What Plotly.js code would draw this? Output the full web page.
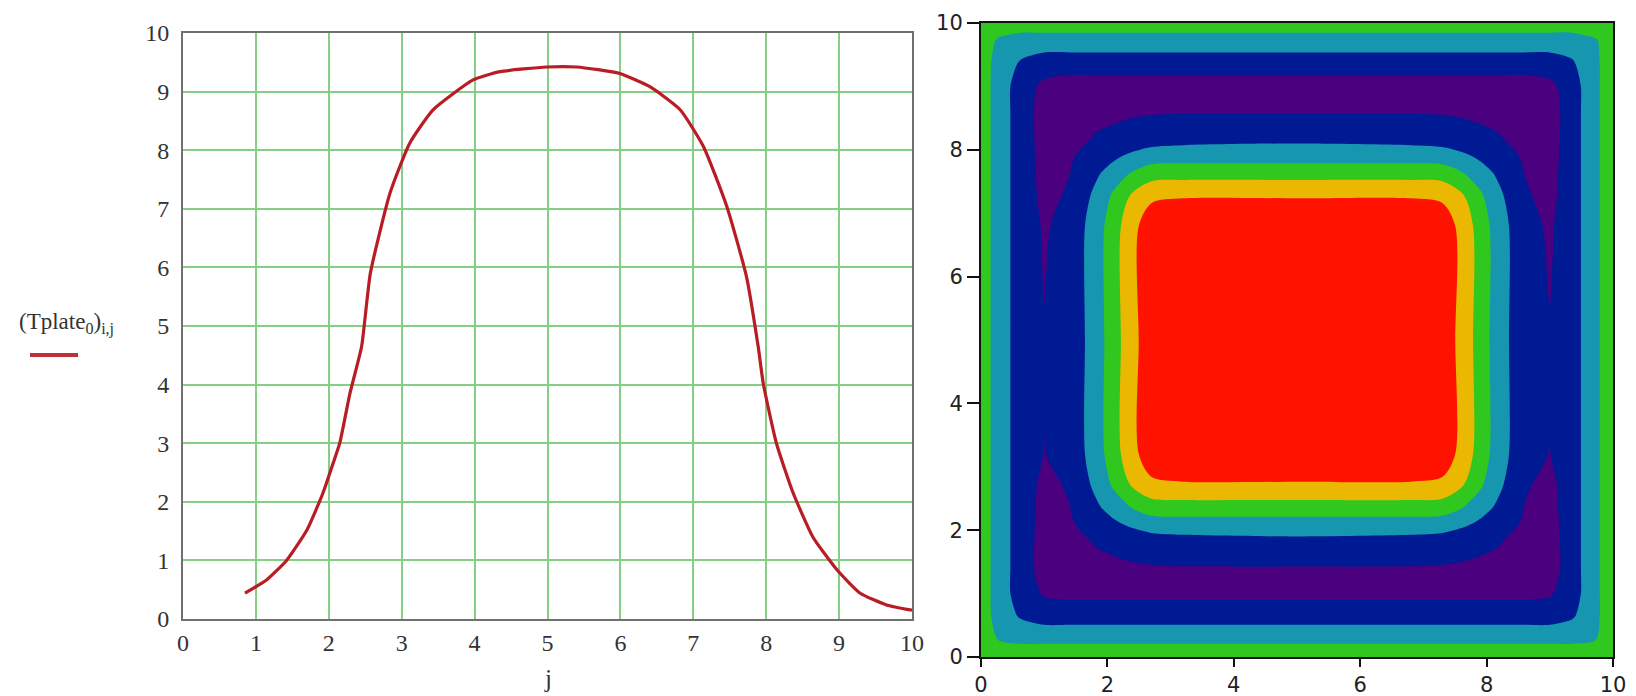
<!DOCTYPE html>
<html>
<head>
<meta charset="utf-8">
<script src="https://cdn.plot.ly/plotly-3.0.1.min.js"></script>
<style>html,body{margin:0;padding:0;background:#fff;}#chart{width:1636px;height:696px;}</style>
</head>
<body>
<div id="chart"></div>
<script>
// ---- Left chart: cross-section profile (Tplate0)i,j versus j ----
const jValues = [0.85, 1.15, 1.42, 1.70, 1.92, 2.06, 2.15, 2.29, 2.45, 2.57, 2.84, 3.11, 3.43, 3.98, 4.35, 4.99, 5.40, 5.99, 6.41, 6.82, 7.14, 7.46, 7.73, 7.89, 7.96, 8.14, 8.37, 8.64, 8.97, 9.29, 9.65, 10.0];
const tValues = [0.44, 0.67, 1.00, 1.52, 2.15, 2.66, 3.00, 3.85, 4.65, 5.90, 7.27, 8.12, 8.69, 9.20, 9.34, 9.42, 9.42, 9.31, 9.08, 8.69, 8.06, 7.04, 5.84, 4.65, 4.02, 3.00, 2.15, 1.40, 0.84, 0.44, 0.24, 0.15];
const leftTicks = [0, 1, 2, 3, 4, 5, 6, 7, 8, 9, 10];

// ---- Right chart: filled contour map of the plate ----
const plateX = [0, 0.28, 0.65, 1.0, 1.4, 1.82, 2.1, 2.36, 2.7, 3.2, 5, 6.8, 7.3, 7.64, 7.9, 8.18, 8.6, 9.0, 9.35, 9.72, 10];
const plateY = [0, 0.28, 0.65, 1.0, 1.4, 1.82, 2.1, 2.36, 2.7, 3.2, 5, 6.8, 7.3, 7.64, 7.9, 8.18, 8.6, 9.0, 9.35, 9.72, 10];
const plateZ = [
 [3.6, 3.6, 3.6, 3.6, 3.6, 3.6, 3.6, 3.6, 3.6, 3.6, 3.6, 3.6, 3.6, 3.6, 3.6, 3.6, 3.6, 3.6, 3.6, 3.6, 3.6],
 [3.6, 2.95, 2.8, 2.8, 2.8, 2.8, 2.8, 2.8, 2.8, 2.8, 2.8, 2.8, 2.8, 2.8, 2.8, 2.8, 2.8, 2.8, 2.8, 2.95, 3.6],
 [3.6, 2.55, 1.85, 1.5, 1.5, 1.5, 1.5, 1.5, 1.5, 1.5, 1.5, 1.5, 1.5, 1.5, 1.5, 1.5, 1.5, 1.5, 1.85, 2.8, 3.6],
 [3.6, 2.5, 1.5, 0.9, 0.8, 0.8, 0.8, 0.8, 0.8, 0.8, 0.8, 0.8, 0.8, 0.8, 0.8, 0.8, 0.8, 0.9, 1.5, 2.8, 3.6],
 [3.6, 2.5, 1.5, 0.55, 0.7, 0.82, 0.87, 0.9, 0.93, 0.95, 0.95, 0.95, 0.93, 0.9, 0.87, 0.82, 0.7, 0.55, 1.5, 2.8, 3.6],
 [3.6, 2.5, 1.5, 0.6, 0.8, 1.05, 1.15, 1.3, 1.5, 1.65, 1.77, 1.65, 1.5, 1.3, 1.15, 1.05, 0.8, 0.6, 1.5, 2.8, 3.6],
 [3.6, 2.5, 1.5, 0.65, 0.9, 1.4, 1.83, 2.17, 2.53, 2.57, 2.57, 2.57, 2.53, 2.17, 1.83, 1.4, 0.9, 0.65, 1.5, 2.8, 3.6],
 [3.6, 2.5, 1.5, 0.7, 0.98, 1.84, 2.39, 2.98, 3.5, 3.56, 3.56, 3.56, 3.5, 2.98, 2.39, 1.84, 0.98, 0.7, 1.5, 2.8, 3.6],
 [3.6, 2.5, 1.5, 0.75, 1.1, 2.22, 3.14, 3.98, 4.75, 4.85, 4.85, 4.85, 4.75, 3.98, 3.14, 2.22, 1.1, 0.75, 1.5, 2.8, 3.6],
 [3.6, 2.5, 1.5, 0.98, 1.3, 2.5, 3.56, 4.56, 5.66, 6.0, 6.0, 6.0, 5.66, 4.56, 3.56, 2.5, 1.3, 0.98, 1.5, 2.8, 3.6],
 [3.6, 2.5, 1.5, 1.05, 1.3, 2.5, 3.56, 4.56, 5.66, 6.0, 6.2, 6.0, 5.66, 4.56, 3.56, 2.5, 1.3, 1.05, 1.5, 2.8, 3.6],
 [3.6, 2.5, 1.5, 0.9, 1.3, 2.5, 3.56, 4.56, 5.66, 6.0, 6.0, 6.0, 5.66, 4.56, 3.56, 2.5, 1.3, 0.88, 1.5, 2.8, 3.6],
 [3.6, 2.5, 1.5, 0.75, 1.1, 2.22, 3.14, 3.98, 4.75, 4.85, 4.85, 4.85, 4.75, 3.98, 3.14, 2.22, 1.1, 0.75, 1.5, 2.8, 3.6],
 [3.6, 2.5, 1.5, 0.7, 0.98, 1.84, 2.39, 2.98, 3.5, 3.56, 3.56, 3.56, 3.5, 2.98, 2.39, 1.84, 0.98, 0.7, 1.5, 2.8, 3.6],
 [3.6, 2.5, 1.5, 0.65, 0.9, 1.4, 1.83, 2.17, 2.53, 2.57, 2.57, 2.57, 2.53, 2.17, 1.83, 1.4, 0.9, 0.65, 1.5, 2.8, 3.6],
 [3.6, 2.5, 1.5, 0.6, 0.8, 1.05, 1.15, 1.3, 1.5, 1.65, 1.77, 1.65, 1.5, 1.3, 1.15, 1.05, 0.8, 0.6, 1.5, 2.8, 3.6],
 [3.6, 2.5, 1.5, 0.55, 0.7, 0.82, 0.87, 0.9, 0.93, 0.95, 0.95, 0.95, 0.93, 0.9, 0.87, 0.82, 0.7, 0.55, 1.5, 2.8, 3.6],
 [3.6, 2.5, 1.5, 0.75, 0.5, 0.5, 0.5, 0.5, 0.5, 0.5, 0.5, 0.5, 0.5, 0.5, 0.5, 0.5, 0.5, 0.75, 1.5, 2.8, 3.6],
 [3.6, 2.55, 1.85, 1.5, 1.5, 1.5, 1.5, 1.5, 1.5, 1.5, 1.5, 1.5, 1.5, 1.5, 1.5, 1.5, 1.5, 1.5, 1.85, 2.8, 3.6],
 [3.6, 2.85, 2.5, 2.5, 2.5, 2.5, 2.5, 2.5, 2.5, 2.5, 2.5, 2.5, 2.5, 2.5, 2.5, 2.5, 2.5, 2.5, 2.5, 2.9, 3.6],
 [3.6, 3.6, 3.6, 3.6, 3.6, 3.6, 3.6, 3.6, 3.6, 3.6, 3.6, 3.6, 3.6, 3.6, 3.6, 3.6, 3.6, 3.6, 3.6, 3.6, 3.6]
];
const plateTicks = [0, 2, 4, 6, 8, 10];
const bandColors = ['#4b0080', '#001a94', '#1796b0', '#30c81e', '#eab800', '#ff1200'];

const W = 1636, H = 696;
const serif = 'Liberation Serif, Times New Roman, serif';

const traces = [
  {
    type: 'scatter', mode: 'lines', x: jValues, y: tValues,
    line: {color: '#b81c24', width: 3.2, shape: 'spline', smoothing: 0.5},
    xaxis: 'x', yaxis: 'y', hoverinfo: 'skip'
  },
  {
    type: 'contour', x: plateX, y: plateY, z: plateZ,
    xaxis: 'x2', yaxis: 'y2',
    autocontour: false,
    contours: {start: 1, end: 5, size: 1, coloring: 'fill', showlines: false},
    line: {width: 0, smoothing: 0.8},
    colorscale: bandColors.map((c, i) => [i / (bandColors.length - 1), c]),
    showscale: false, hoverinfo: 'skip'
  }
];

const leftAxisCommon = {
  range: [0, 10], tickvals: leftTicks, ticktext: leftTicks.map(String),
  showgrid: true, gridcolor: '#84cf84', gridwidth: 2,
  zeroline: false, showline: true, linecolor: '#707070', linewidth: 2, mirror: true,
  ticks: 'outside', tickcolor: 'rgba(0,0,0,0)',
  tickfont: {family: serif, size: 24, color: '#333'}, fixedrange: true
};
const rightAxisCommon = {
  range: [0, 10], tickvals: plateTicks, ticktext: plateTicks.map(String),
  showgrid: false, zeroline: false, showline: true, linecolor: '#111', linewidth: 2, mirror: true,
  ticks: 'outside', ticklen: 10, tickwidth: 2, tickcolor: '#111',
  tickfont: {family: 'DejaVu Sans, sans-serif', size: 21, color: '#222'}, fixedrange: true
};

const layout = {
  width: W, height: H,
  margin: {l: 0, r: 0, t: 0, b: 0},
  paper_bgcolor: '#ffffff', plot_bgcolor: '#ffffff',
  showlegend: false,
  xaxis: Object.assign({}, leftAxisCommon, {domain: [183 / W, 912 / W], anchor: 'y', ticklen: 1}),
  yaxis: Object.assign({}, leftAxisCommon, {domain: [77 / H, 663 / H], anchor: 'x', ticklen: 7}),
  xaxis2: Object.assign({}, rightAxisCommon, {domain: [981 / W, 1613 / W], anchor: 'y2', ticklen: 8}),
  yaxis2: Object.assign({}, rightAxisCommon, {domain: [39 / H, 673 / H], anchor: 'x2', ticklen: 12}),
  annotations: [
    {xref: 'paper', yref: 'paper', x: 66 / W, y: 373 / H, xanchor: 'center', yanchor: 'middle',
     text: '(Tplate<sub>0</sub>)<sub>i,j</sub>', showarrow: false,
     font: {family: serif, size: 23, color: '#333'}},
    {xref: 'paper', yref: 'paper', x: 548 / W, y: 18 / H, xanchor: 'center', yanchor: 'middle',
     text: 'j', showarrow: false, font: {family: serif, size: 25, color: '#333'}}
  ],
  shapes: [
    {type: 'line', xref: 'paper', yref: 'paper', x0: 30 / W, x1: 78 / W, y0: 341 / H, y1: 341 / H,
     line: {color: '#c0303a', width: 4}}
  ]
};

Plotly.newPlot('chart', traces, layout, {displayModeBar: false, staticPlot: true});
</script>
</body>
</html>
